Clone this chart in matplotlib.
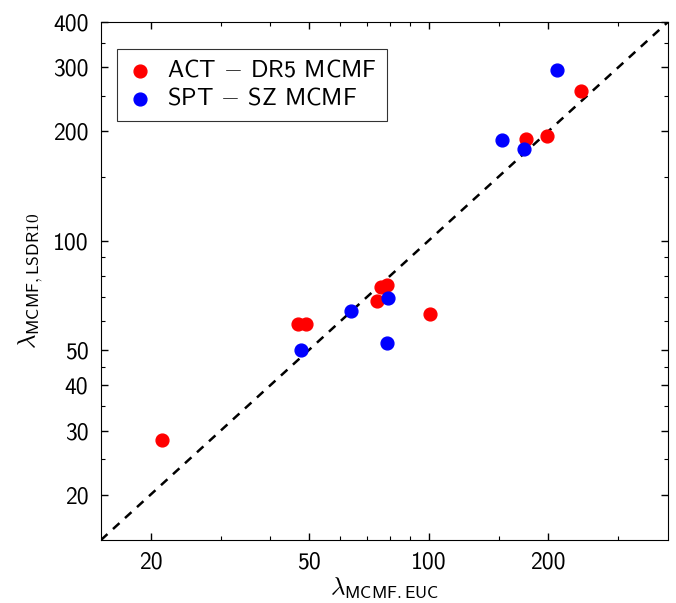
import matplotlib
matplotlib.use('Agg')
import matplotlib.pyplot as plt

plt.rcParams['mathtext.fontset'] = 'cm'
plt.rcParams['font.family'] = ['cmss10', 'DejaVu Sans']
plt.rcParams['axes.unicode_minus'] = False

# ACT - DR5 MCMF
act_euc = [21.4, 47.0, 49.2, 74.3, 76.0, 78.7, 101, 176, 199, 242]
act_lsdr = [28.2, 59.0, 59.0, 68.3, 74.6, 75.6, 62.9, 191, 194, 258]

# SPT - SZ MCMF
spt_euc = [47.8, 64.0, 79.1, 78.6, 153, 174, 211]
spt_lsdr = [50.0, 64.1, 69.6, 52.3, 189, 179, 295]

lims = [15, 400]
x_major = [20, 50, 100, 200]
x_minor = [30, 40, 60, 70, 80, 90, 150, 300]
y_major = [20, 30, 40, 50, 100, 200, 300, 400]
y_minor = [25, 35, 45, 60, 70, 80, 90, 150, 250, 350]

fig = plt.figure(figsize=(6.76, 6.03), dpi=100)
ax = fig.add_axes([0.1494, 0.1045, 0.8386, 0.859])

ax.plot(lims, lims, color='black', ls='--', lw=1.8, dashes=(3.5, 3), zorder=1)
ax.scatter(act_euc, act_lsdr, s=85, color='red', label=r'ACT $-$ DR5 MCMF', zorder=2)
ax.scatter(spt_euc, spt_lsdr, s=85, color='blue', label=r'SPT $-$ SZ MCMF', zorder=2)

ax.set_xscale('log')
ax.set_yscale('log')
ax.set_xlim(lims)
ax.set_ylim(lims)

ax.set_xticks(x_major)
ax.set_xticklabels([str(v) for v in x_major])
ax.set_xticks(x_minor, minor=True)
ax.set_xticklabels([], minor=True)
ax.set_yticks(y_major)
ax.set_yticklabels([str(v) for v in y_major])
ax.set_yticks(y_minor, minor=True)
ax.set_yticklabels([], minor=True)

ax.tick_params(which='both', direction='in', top=True, right=True, labelsize=17)
ax.tick_params(which='major', length=5, width=1)
ax.tick_params(which='minor', length=3, width=0.8)
ax.tick_params(axis='x', pad=8)
ax.tick_params(axis='y', pad=9)

ax.set_xlabel(r'$\lambda_{\mathsf{MCMF.EUC}}$', fontsize=18, labelpad=2)
ax.set_ylabel(r'$\lambda_{\mathsf{MCMF,LSDR10}}$', fontsize=18, labelpad=6)

leg = ax.legend(loc='upper left', fontsize=17.5, frameon=True, fancybox=False,
                edgecolor='black', handlelength=1.0, handletextpad=0.6,
                borderpad=0.45, labelspacing=0.25, borderaxespad=0,
                bbox_to_anchor=(0.028, 0.948))
leg.get_frame().set_linewidth(0.8)

fig.savefig('out.png', dpi=100)
